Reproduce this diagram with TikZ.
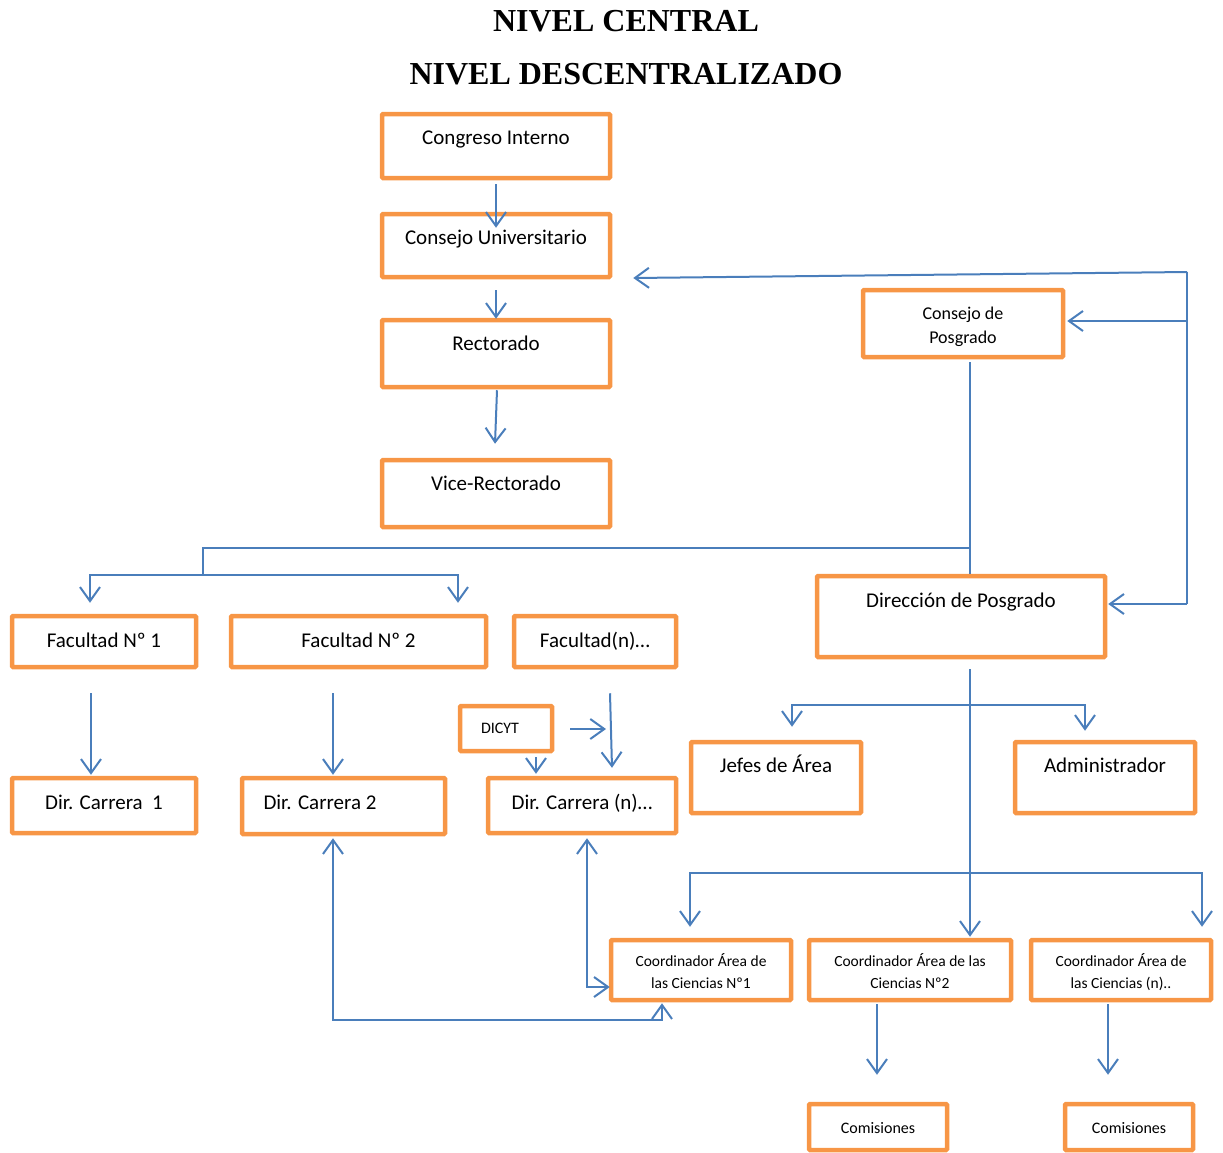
\documentclass[tikz,border=0pt]{standalone}
\usepackage{fontspec}
\setmainfont{Carlito}
\newfontfamily\titlefont{Liberation Serif}
\usetikzlibrary{arrows.meta}
\definecolor{boxorange}{HTML}{F79646}
\definecolor{lineblue}{HTML}{4A7EBB}
\begin{document}
\begin{tikzpicture}[x=1pt,y=-1pt,
  box/.style={draw=boxorange, line width=4.5pt, inner sep=0pt, align=center, rounded corners=1pt},
  big/.style={font=\fontsize{21}{25}\selectfont},
  mid/.style={font=\fontsize{18}{24}\selectfont},
  sml/.style={font=\fontsize{16}{20}\selectfont},
  tiny/.style={font=\fontsize{15.5}{22}\selectfont},
  ttl/.style={font=\titlefont\bfseries\fontsize{32}{38}\selectfont, anchor=base, inner sep=0pt},
  link/.style={draw=lineblue, line width=2pt},
  arr/.style={link, -{Straight Barb[length=14pt,width=20pt]}},
  both/.style={link, {Straight Barb[length=14pt,width=20pt]}-{Straight Barb[length=14pt,width=20pt]}},
]
\useasboundingbox (0,0) rectangle (1223,1152);

% titles
\node[ttl] (t1) at (626,31.5) {NIVEL CENTRAL};
\node[ttl] (t2) at (626,84) {NIVEL DESCENTRALIZADO};

% boxes
\node[box,big,minimum width=228pt,minimum height=64pt,text height=30pt,text depth=34pt] (ci) at (496,146) {Congreso Interno};
\node[box,big,minimum width=228pt,minimum height=63pt,text height=30pt,text depth=33pt] (cu) at (496,245.5) {Consejo Universitario};
\node[box,big,minimum width=228pt,minimum height=67pt,text height=30pt,text depth=37pt] (re) at (496,353.5) {Rectorado};
\node[box,big,minimum width=228pt,minimum height=67pt,text height=30pt,text depth=37pt] (vr) at (496,493.5) {Vice-Rectorado};
\node[box,mid,minimum width=200pt,minimum height=67pt,text height=53.3pt,text depth=13.7pt] (cp) at (963,323.5) {Consejo de\\Posgrado};
\node[box,big,minimum width=288pt,minimum height=81pt,text height=31pt,text depth=50pt] (dp) at (961,616.5) {Dirección de Posgrado};
\node[box,big,minimum width=184pt,minimum height=51pt,text height=31pt,text depth=20pt] (f1) at (104,641.5) {Facultad Nº 1};
\node[box,big,minimum width=255pt,minimum height=51pt,text height=31pt,text depth=20pt] (f2) at (358.5,641.5) {Facultad Nº 2};
\node[box,big,minimum width=162pt,minimum height=51pt,text height=31pt,text depth=20pt] (fn) at (595,641.5) {Facultad(n)…};
\node[box,sml,minimum width=92pt,minimum height=45pt,text height=27pt,text depth=18pt] (di) at (506,728.5) {DICYT\hspace*{12pt}};
\node[box,big,minimum width=170pt,minimum height=71pt,text height=30pt,text depth=41pt] (ja) at (776,777.5) {Jefes de Área};
\node[box,big,minimum width=180pt,minimum height=71pt,text height=30pt,text depth=41pt] (ad) at (1105,777.5) {Administrador};
\node[box,big,minimum width=184pt,minimum height=55pt,text height=31pt,text depth=24pt] (d1) at (104,805.5) {Dir. Carrera~ 1};
\node[box,big,minimum width=203pt,minimum height=56pt,text height=31pt,text depth=25pt] (d2) at (343.5,806) {Dir. Carrera 2\hspace*{47pt}};
\node[box,big,minimum width=188pt,minimum height=55pt,text height=31pt,text depth=24pt] (dn) at (582,805.5) {Dir. Carrera (n)…};
\node[box,tiny,minimum width=180pt,minimum height=60pt,text height=48.3pt,text depth=11.7pt] (c1) at (701,970) {Coordinador Área de\\las Ciencias Nº1};
\node[box,tiny,minimum width=202pt,minimum height=60pt,text height=48.3pt,text depth=11.7pt] (c2) at (910,970) {Coordinador Área de las\\Ciencias Nº2};
\node[box,tiny,minimum width=180pt,minimum height=60pt,text height=48.3pt,text depth=11.7pt] (c3) at (1121,970) {Coordinador Área de\\las Ciencias (n)..};
\node[box,sml,minimum width=138pt,minimum height=46pt,text height=29pt,text depth=17pt] (m1) at (878,1127) {Comisiones};
\node[box,sml,minimum width=128pt,minimum height=46pt,text height=29pt,text depth=17pt] (m2) at (1129,1127) {Comisiones};

% junction coordinates
\coordinate (lt) at (1187,272);
\coordinate (lm) at (1187,321);
\coordinate (lb) at (1187,604);
\coordinate (j1) at (970,548);
\coordinate (j3) at (203,575);
\coordinate (dr) at (606,729);
\coordinate (k1) at (970,705);
\coordinate (k2) at (970,873);

% central chain
\draw[arr] ([yshift=-4pt]ci.south) -- ([yshift=-16pt]cu.north);
\draw[arr] ([yshift=-11pt]cu.south) -- ([yshift=-1pt]re.north);
\draw[arr] ([xshift=1pt,yshift=-1pt]re.south) -- ([xshift=-1pt,yshift=14pt]vr.north);

% feedback loop on the right
\draw[arr] (lt) -- ([xshift=21pt,yshift=-32.5pt]cu.east);
\draw[link] (lt) -- (lb);
\draw[arr] (lm) -- ([xshift=2pt,yshift=2.5pt]cp.east);
\draw[arr] (lb) -- ([xshift=1pt,yshift=12.5pt]dp.east);

% posgrado trunk and faculties branch
\draw[link] ([xshift=7pt,yshift=-3pt]cp.south) -- ([xshift=9pt]dp.north);
\draw[link] (j1) -| (j3);
\draw[both] ([xshift=-14pt,yshift=11pt]f1.north) |- (j3) -| ([xshift=99.5pt,yshift=11pt]f2.north);

% faculties to careers
\draw[arr] ([xshift=-13pt,yshift=-24pt]f1.south) -- ([xshift=-13pt,yshift=1pt]d1.north);
\draw[arr] ([xshift=-25.5pt,yshift=-24pt]f2.south) -- ([xshift=-10.5pt,yshift=1pt]d2.north);
\draw[arr] ([xshift=15pt,yshift=-24pt]fn.south) -- ([xshift=30pt,yshift=8pt]dn.north);
\draw[arr] ([xshift=16pt,yshift=-0.5pt]di.east) -- (dr);
\draw[arr] ([xshift=30pt,yshift=-4pt]di.south) -- ([xshift=-46pt,yshift=2pt]dn.north);

% direccion de posgrado down
\draw[arr] ([xshift=9pt,yshift=-10pt]dp.south) -- ([xshift=60pt,yshift=1pt]c2.north);
\draw[both] ([xshift=16pt,yshift=13pt]ja.north) |- (k1) -| ([xshift=-20pt,yshift=9pt]ad.north);
\draw[both] ([xshift=-11pt,yshift=11pt]c1.north) |- (k2) -| ([xshift=81pt,yshift=11pt]c3.north);

% coordinators to commissions
\draw[arr] ([xshift=-33pt,yshift=-2pt]c2.south) -- ([xshift=-1pt,yshift=27pt]m1.north);
\draw[arr] ([xshift=-13pt,yshift=-2pt]c3.south) -- ([xshift=-21pt,yshift=27pt]m2.north);

% careers <-> coordinator 1
\draw[both] ([xshift=-10.5pt,yshift=-2pt]d2.south) |- ([xshift=-39pt,yshift=-18pt]c1.south) -- ([xshift=-39pt,yshift=-1pt]c1.south);
\draw[both] ([xshift=5pt,yshift=-3pt]dn.south) |- ([xshift=1pt,yshift=-17pt]c1.west);
\end{tikzpicture}
\end{document}
